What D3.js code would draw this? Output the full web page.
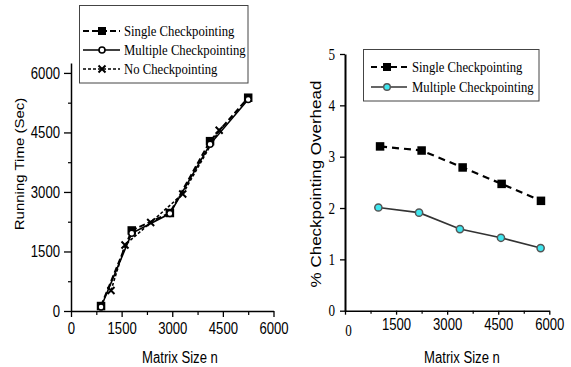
<!DOCTYPE html>
<html>
<head>
<meta charset="utf-8">
<script src="https://cdn.jsdelivr.net/npm/d3@7"></script>
<style>
  body { margin: 0; background: #fff; }
  svg { display: block; }
</style>
</head>
<body>
<div id="chart"></div>
<script>
// left panel: running time (sec) vs matrix size
const sizesSingle = [890, 1800, 2930, 4120, 5250];
const timeSingle = [125, 2030, 2470, 4280, 5375];
const sizesMultiple = [890, 1800, 2930, 4120, 5250];
const timeMultiple = [100, 1960, 2455, 4200, 5330];
const sizesNone = [1185, 1600, 2360, 3310, 4390];
const timeNone = [515, 1665, 2230, 2950, 4555];

// right panel: % checkpointing overhead vs matrix size
const ovSizesSingle = [1030, 2250, 3455, 4600, 5755];
const ovSingle = [3.20, 3.12, 2.79, 2.47, 2.14];
const ovSizesMultiple = [980, 2175, 3375, 4580, 5745];
const ovMultiple = [2.01, 1.91, 1.59, 1.42, 1.22];

const xTicks = [0, 1500, 3000, 4500, 6000];
const xMinor = [750, 2250, 3750, 5250];
const timeTicks = [0, 1500, 3000, 4500, 6000];
const timeMinor = [750, 2250, 3750, 5250];
const ovTicks = [0, 1, 2, 3, 4, 5];
const legendLeft = ["Single Checkpointing", "Multiple Checkpointing", "No Checkpointing"];
const legendRight = ["Single Checkpointing", "Multiple Checkpointing"];

const W = 571, H = 367;
const SX = 0.82; // the source figure is squeezed horizontally
const SANS = "'Liberation Sans', Arial, sans-serif";
const SERIF = "'Liberation Serif', 'Times New Roman', serif";
const fmt = d3.format("d");

const svg = d3.select("#chart").append("svg")
    .attr("width", W).attr("height", H);

// scales
const xL = d3.scaleLinear().domain([0, 6000]).range([71, 273.5]);
const yL = d3.scaleLinear().domain([0, 6250]).range([311, 63]);
const xR = d3.scaleLinear().domain([0, 6000]).range([345, 549.3]);
const yR = d3.scaleLinear().domain([0, 5]).range([310.7, 54]);

function zip(xs, ys) { return xs.map((v, i) => [v, ys[i]]); }

// horizontal text with the squeeze
function hText(g, x, y, str, font, size, anchor) {
    return g.append("text")
        .attr("transform", `translate(${x},${y}) scale(${SX},1)`)
        .attr("text-anchor", anchor || "start")
        .style("font-family", font)
        .style("font-size", size + "px")
        .attr("fill", "#000")
        .text(str);
}

// rotated axis title
function vText(g, x, y, str, size) {
    return g.append("text")
        .attr("transform", `translate(${x},${y}) rotate(-90) scale(1,0.85)`)
        .attr("text-anchor", "middle")
        .style("font-family", SANS)
        .style("font-size", size + "px")
        .attr("fill", "#000")
        .text(str);
}

function styleAxis(g, font, size, isLeft, stroke) {
    g.attr("font-family", null).attr("font-size", null);
    g.select(".domain").attr("stroke", "#000").attr("stroke-width", stroke);
    g.selectAll(".tick line").attr("stroke", "#000").attr("stroke-width", 1.3);
    g.selectAll(".tick text")
        .style("font-family", font)
        .style("font-size", size + "px")
        .attr("fill", "#000")
        .attr("transform", `scale(${SX},1)`)
        .attr("x", function () {
            const x = +d3.select(this).attr("x") || 0;
            return isLeft ? x / SX : x;
        });
}

function minorAxis(axis, scale, vals, size, tr) {
    svg.append("g").attr("transform", tr)
        .call(axis(scale).tickValues(vals).tickSize(size).tickFormat(""))
        .call(g => {
            g.select(".domain").remove();
            g.selectAll(".tick line").attr("stroke", "#000").attr("stroke-width", 1.2);
        });
}

// markers
function squares(g, data, sx, sy, s, fill) {
    g.selectAll(null).data(data).enter().append("rect")
        .attr("x", d => sx(d[0]) - s / 2).attr("y", d => sy(d[1]) - s / 2)
        .attr("width", s).attr("height", s)
        .attr("fill", fill);
}
function circles(g, data, sx, sy, r, fill, stroke, sw) {
    g.selectAll(null).data(data).enter().append("circle")
        .attr("cx", d => sx(d[0])).attr("cy", d => sy(d[1]))
        .attr("r", r).attr("fill", fill)
        .attr("stroke", stroke).attr("stroke-width", sw);
}
function crosses(g, data, sx, sy, s) {
    g.selectAll(null).data(data).enter().append("path")
        .attr("d", d => {
            const x = sx(d[0]), y = sy(d[1]);
            return `M${x - s},${y - s}L${x + s},${y + s}M${x - s},${y + s}L${x + s},${y - s}`;
        })
        .attr("stroke", "#000").attr("stroke-width", 2).attr("fill", "none");
}
function line(g, data, sx, sy, color, width, dash) {
    g.append("path").datum(data)
        .attr("d", d3.line().x(d => sx(d[0])).y(d => sy(d[1])))
        .attr("fill", "none").attr("stroke", color)
        .attr("stroke-width", width)
        .attr("stroke-dasharray", dash || null);
}

// ---------- left panel ----------
svg.append("g").attr("transform", "translate(71,0)")
    .call(d3.axisLeft(yL).tickValues(timeTicks).tickFormat(fmt).tickSize(7).tickPadding(4).tickSizeOuter(0))
    .call(g => styleAxis(g, SANS, 16, true, 1.5));
minorAxis(d3.axisLeft, yL, timeMinor, 3, "translate(71,0)");

svg.append("g").attr("transform", "translate(0,311)")
    .call(d3.axisBottom(xL).tickValues(xTicks).tickFormat(fmt).tickSize(6).tickPadding(6).tickSizeOuter(0))
    .call(g => styleAxis(g, SANS, 16, false, 1.5));
minorAxis(d3.axisBottom, xL, xMinor, 4, "translate(0,311)");

const pL = svg.append("g");
const dS = zip(sizesSingle, timeSingle);
const dM = zip(sizesMultiple, timeMultiple);
const dN = zip(sizesNone, timeNone);
line(pL, dS, xL, yL, "#000", 2, "6,3");
line(pL, dM, xL, yL, "#000", 1.6);
line(pL, dN, xL, yL, "#000", 1.6, "3,2");
squares(pL, dS, xL, yL, 8.5, "#000");
crosses(pL, dN, xL, yL, 3.5);
circles(pL, dM, xL, yL, 3, "#fff", "#000", 1.5);

hText(svg, 180, 363, "Matrix Size n", SANS, 16, "middle");
vText(svg, 24, 164, "Running Time (Sec)", 15);

// left legend
const lgL = svg.append("g");
lgL.append("rect").attr("x", 79.5).attr("y", 5.5).attr("width", 168.5).attr("height", 77.5)
    .attr("fill", "#fff").attr("stroke", "#444").attr("stroke-width", 1);
const rowsL = [31, 50, 69];
legendLeft.forEach((name, i) => {
    const y = rowsL[i];
    const dash = i === 0 ? "6,3" : i === 2 ? "3,2" : null;
    lgL.append("line").attr("x1", 83).attr("x2", 120).attr("y1", y).attr("y2", y)
        .attr("stroke", "#000").attr("stroke-width", i === 0 ? 2.2 : 1.6)
        .attr("stroke-dasharray", dash);
    const pt = [[0, 0]];
    const fx = () => 102, fy = () => y;
    if (i === 0) squares(lgL, pt, fx, fy, 8, "#000");
    if (i === 1) circles(lgL, pt, fx, fy, 3, "#fff", "#000", 1.6);
    if (i === 2) crosses(lgL, pt, fx, fy, 3.5);
    hText(lgL, 124, y + 5, name, SERIF, 15.5);
});

// ---------- right panel ----------
svg.append("g").attr("transform", "translate(345,0)")
    .call(d3.axisLeft(yR).tickValues(ovTicks).tickFormat(fmt).tickSize(5).tickPadding(5).tickSizeOuter(0))
    .call(g => styleAxis(g, SERIF, 16, true, 2));

svg.append("g").attr("transform", "translate(0,310.7)")
    .call(d3.axisBottom(xR).tickValues(xTicks).tickFormat(fmt).tickSize(4).tickPadding(4).tickSizeOuter(0))
    .call(g => styleAxis(g, SANS, 16, false, 1.5))
    .call(g => g.selectAll(".tick text").filter(d => d === 0)
        .style("font-family", SERIF)
        .attr("x", 3 / SX).attr("y", 14));
minorAxis(d3.axisBottom, xR, xMinor, 3, "translate(0,310.7)");

const pR = svg.append("g");
const oS = zip(ovSizesSingle, ovSingle);
const oM = zip(ovSizesMultiple, ovMultiple);
line(pR, oS, xR, yR, "#000", 2.2, "7,5");
line(pR, oM, xR, yR, "#333", 1.6);
squares(pR, oS, xR, yR, 8.5, "#000");
circles(pR, oM, xR, yR, 3.6, "#3ee6ef", "#555", 1.5);

hText(svg, 462, 363, "Matrix Size n", SANS, 16, "middle");
vText(svg, 321, 184, "% Checkpointing Overhead", 17);

// right legend
const lgR = svg.append("g");
lgR.append("rect").attr("x", 363.5).attr("y", 49.5).attr("width", 175.5).attr("height", 51.5)
    .attr("fill", "#fff").attr("stroke", "#444").attr("stroke-width", 1);
const rowsR = [67, 87];
legendRight.forEach((name, i) => {
    const y = rowsR[i];
    lgR.append("line").attr("x1", 371).attr("x2", 407).attr("y1", y).attr("y2", y)
        .attr("stroke", i === 0 ? "#000" : "#333").attr("stroke-width", i === 0 ? 2.2 : 1.6)
        .attr("stroke-dasharray", i === 0 ? "6,4" : null);
    const pt = [[0, 0]];
    const fx = () => 387, fy = () => y;
    if (i === 0) squares(lgR, pt, fx, fy, 8, "#000");
    if (i === 1) circles(lgR, pt, fx, fy, 3.3, "#3ee6ef", "#555", 1.4);
    hText(lgR, 412, y + 5, name, SERIF, 15.5);
});
</script>
</body>
</html>
